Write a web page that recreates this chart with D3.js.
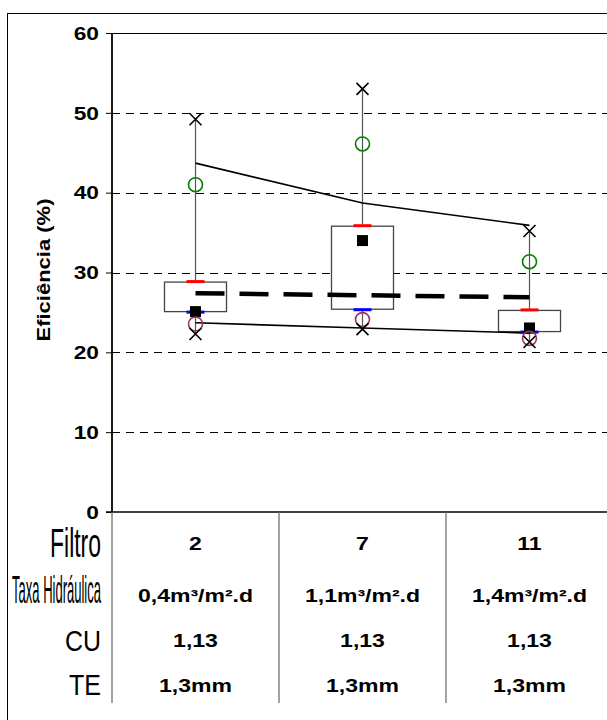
<!DOCTYPE html>
<html>
<head>
<meta charset="utf-8">
<script src="https://cdn.jsdelivr.net/npm/d3@7"></script>
<style>
  html, body { margin: 0; padding: 0; background: #fff; }
  svg { display: block; }
  text { font-family: "Liberation Sans", Arial, sans-serif; }
</style>
</head>
<body>
<script>
// ---- data ----
const filtros = ["2", "7", "11"];
const taxas = ["0,4m³/m².d", "1,1m³/m².d", "1,4m³/m².d"];
const cuValues = ["1,13", "1,13", "1,13"];
const teValues = ["1,3mm", "1,3mm", "1,3mm"];
const rowLabels = ["Filtro", "Taxa Hidráulica", "CU", "TE"];

const maxVals = [49.2, 53.0, 35.2];
const minVals = [22.3, 22.9, 21.3];
const q3Vals = [28.8, 35.8, 25.25];
const q1Vals = [25.1, 25.4, 22.6];
const meanVals = [25.1, 34.0, 23.05];
const greenVals = [41.0, 46.1, 31.35];
const purpleVals = [23.55, 24.1, 21.75];
const upperLine = [43.7, 38.7, 35.9];
const lowerLine = [23.7, 23.05, 22.4];
const dashLine = [27.4, 27.15, 26.9];
const yTicks = [0, 10, 20, 30, 40, 50, 60];
const yTitle = "Eficiência (%)";

// ---- layout ----
const W = 607, H = 720;
const svg = d3.select("body").append("svg").attr("width", W).attr("height", H);

const x = d3.scaleBand().domain(filtros).range([112, 613]).paddingInner(0).paddingOuter(0);
const cx = d => x(d) + x.bandwidth() / 2;
const y = d3.scaleLinear().domain([0, 60]).range([512, 33]);

// outer frame
svg.append("rect").attr("x", 7.5).attr("y", 13.5).attr("width", 640).attr("height", 740)
  .attr("fill", "none").attr("stroke", "#000").attr("stroke-width", 1);

// gridlines
svg.append("g").selectAll("line").data(yTicks.filter(t => t > 0 && t < 60)).join("line")
  .attr("x1", 112).attr("x2", 613)
  .attr("y1", d => Math.round(y(d)) + 0.5).attr("y2", d => Math.round(y(d)) + 0.5)
  .attr("stroke", "#000").attr("stroke-width", 1).attr("stroke-dasharray", "8,6");

// top border & zero line
svg.append("line").attr("x1", 106).attr("x2", 613).attr("y1", Math.round(y(60)) + 0.5).attr("y2", Math.round(y(60)) + 0.5)
  .attr("stroke", "#000").attr("stroke-width", 1);
svg.append("line").attr("x1", 106).attr("x2", 613).attr("y1", y(0)).attr("y2", y(0))
  .attr("stroke", "#000").attr("stroke-width", 1.5);

// y axis
const yAxis = svg.append("g").attr("transform", "translate(112,0)")
  .call(d3.axisLeft(y).tickValues(yTicks).tickSize(6).tickFormat(d3.format("d")));
yAxis.select(".domain").attr("stroke", "#000").attr("stroke-width", 1.8).attr("d", `M0,${y(60)}V${y(0)}`);
yAxis.selectAll(".tick line").attr("stroke", "#000");
yAxis.selectAll(".tick text")
  .attr("x", 0).attr("dy", "0.36em")
  .attr("transform", "translate(-13,0) scale(1.3,1)")
  .attr("text-anchor", "end")
  .style("font-size", "17.5px").style("font-weight", "bold").attr("fill", "#000")
  .style("font-family", "'Liberation Sans', Arial, sans-serif");

// y title
svg.append("text")
  .attr("transform", `translate(50,270) rotate(-90)`)
  .attr("text-anchor", "middle")
  .attr("textLength", 143).attr("lengthAdjust", "spacingAndGlyphs")
  .style("font-size", "19px").style("font-weight", "bold")
  .text(yTitle);

// table vertical separators
const seps = [112, ...filtros.map(d => x(d) + x.bandwidth())];
svg.append("g").selectAll("line").data(seps).join("line")
  .attr("x1", d => d).attr("x2", d => d).attr("y1", y(0)).attr("y2", 703)
  .attr("stroke", "#666").attr("stroke-width", 1.2);

// whiskers
const idx = [0, 1, 2];
svg.append("g").selectAll("line").data(idx).join("line")
  .attr("x1", i => cx(filtros[i])).attr("x2", i => cx(filtros[i]))
  .attr("y1", i => y(maxVals[i])).attr("y2", i => y(minVals[i]))
  .attr("stroke", "#555").attr("stroke-width", 1.2);

// boxes
const boxW = 62;
svg.append("g").selectAll("rect").data(idx).join("rect")
  .attr("x", i => cx(filtros[i]) - boxW / 2)
  .attr("y", i => y(q3Vals[i]))
  .attr("width", boxW)
  .attr("height", i => y(q1Vals[i]) - y(q3Vals[i]))
  .attr("fill", "#fff").attr("stroke", "#444").attr("stroke-width", 1.3);

// lines
const lineGen = vals => d3.line().x((d, i) => cx(filtros[i])).y(d => y(d))(vals);
svg.append("path").attr("d", lineGen(upperLine)).attr("fill", "none").attr("stroke", "#000").attr("stroke-width", 1.6);
svg.append("path").attr("d", lineGen(lowerLine)).attr("fill", "none").attr("stroke", "#000").attr("stroke-width", 1.6);
svg.append("path").attr("d", lineGen(dashLine)).attr("fill", "none").attr("stroke", "#000")
  .attr("stroke-width", 4.5).attr("stroke-dasharray", "29,15");

// red / blue marks
const markW = 18;
svg.append("g").selectAll("line").data(idx).join("line")
  .attr("x1", i => cx(filtros[i]) - markW / 2).attr("x2", i => cx(filtros[i]) + markW / 2)
  .attr("y1", i => y(q3Vals[i]) - 0.5).attr("y2", i => y(q3Vals[i]) - 0.5)
  .attr("stroke", "#ff0000").attr("stroke-width", 3);
svg.append("g").selectAll("line").data(idx).join("line")
  .attr("x1", i => cx(filtros[i]) - markW / 2).attr("x2", i => cx(filtros[i]) + markW / 2)
  .attr("y1", i => y(q1Vals[i]) + 0.5).attr("y2", i => y(q1Vals[i]) + 0.5)
  .attr("stroke", "#0000ff").attr("stroke-width", 3);

// mean squares
svg.append("g").selectAll("rect").data(idx).join("rect")
  .attr("x", i => cx(filtros[i]) - 5.5).attr("y", i => y(meanVals[i]) - 5.5)
  .attr("width", 11).attr("height", 11).attr("fill", "#000");

// circles
svg.append("g").selectAll("circle").data(idx).join("circle")
  .attr("cx", i => cx(filtros[i])).attr("cy", i => y(greenVals[i])).attr("r", 7)
  .attr("fill", "none").attr("stroke", "#008000").attr("stroke-width", 1.6);
svg.append("g").selectAll("circle").data(idx).join("circle")
  .attr("cx", i => cx(filtros[i])).attr("cy", i => y(purpleVals[i])).attr("r", 7)
  .attr("fill", "none").attr("stroke", "#993366").attr("stroke-width", 1.6);

// X markers
const xMark = (vals) => svg.append("g").selectAll("path").data(idx).join("path")
  .attr("d", i => {
    const px = cx(filtros[i]), py = y(vals[i]), s = 6;
    return `M${px - s},${py - s}L${px + s},${py + s}M${px - s},${py + s}L${px + s},${py - s}`;
  })
  .attr("stroke", "#000").attr("stroke-width", 1.6).attr("fill", "none");
xMark(maxVals);
xMark(minVals);

// table row labels (condensed via horizontal scale)
const labelSpecs = [
  { text: rowLabels[0], base: 557, size: 40, len: 51 },
  { text: rowLabels[1], base: 603, size: 39, len: 89 },
  { text: rowLabels[2], base: 651, size: 30, len: 36 },
  { text: rowLabels[3], base: 695, size: 29, len: 32 }
];
const lbl = svg.append("g").selectAll("text").data(labelSpecs).join("text")
  .attr("x", 0).attr("y", 0)
  .attr("text-anchor", "end")
  .style("font-family", "'Liberation Sans Narrow', 'Liberation Sans', Arial, sans-serif")
  .style("font-size", d => d.size + "px")
  .text(d => d.text);
lbl.each(function(d) {
  const w = this.getComputedTextLength() || d.len;
  d3.select(this).attr("transform", `translate(101,${d.base}) scale(${d.len / w},1)`);
});

// table values
const rows = [
  { vals: filtros, base: 550 },
  { vals: taxas, base: 602 },
  { vals: cuValues, base: 647 },
  { vals: teValues, base: 692 }
];
rows.forEach(r => {
  svg.append("g").selectAll("text").data(r.vals).join("text")
    .attr("transform", (d, i) => `translate(${cx(filtros[i])},${r.base}) scale(1.28,1)`)
    .attr("text-anchor", "middle")
    .style("font-size", "18px").style("font-weight", "bold")
    .text(d => d);
});
</script>
</body>
</html>
